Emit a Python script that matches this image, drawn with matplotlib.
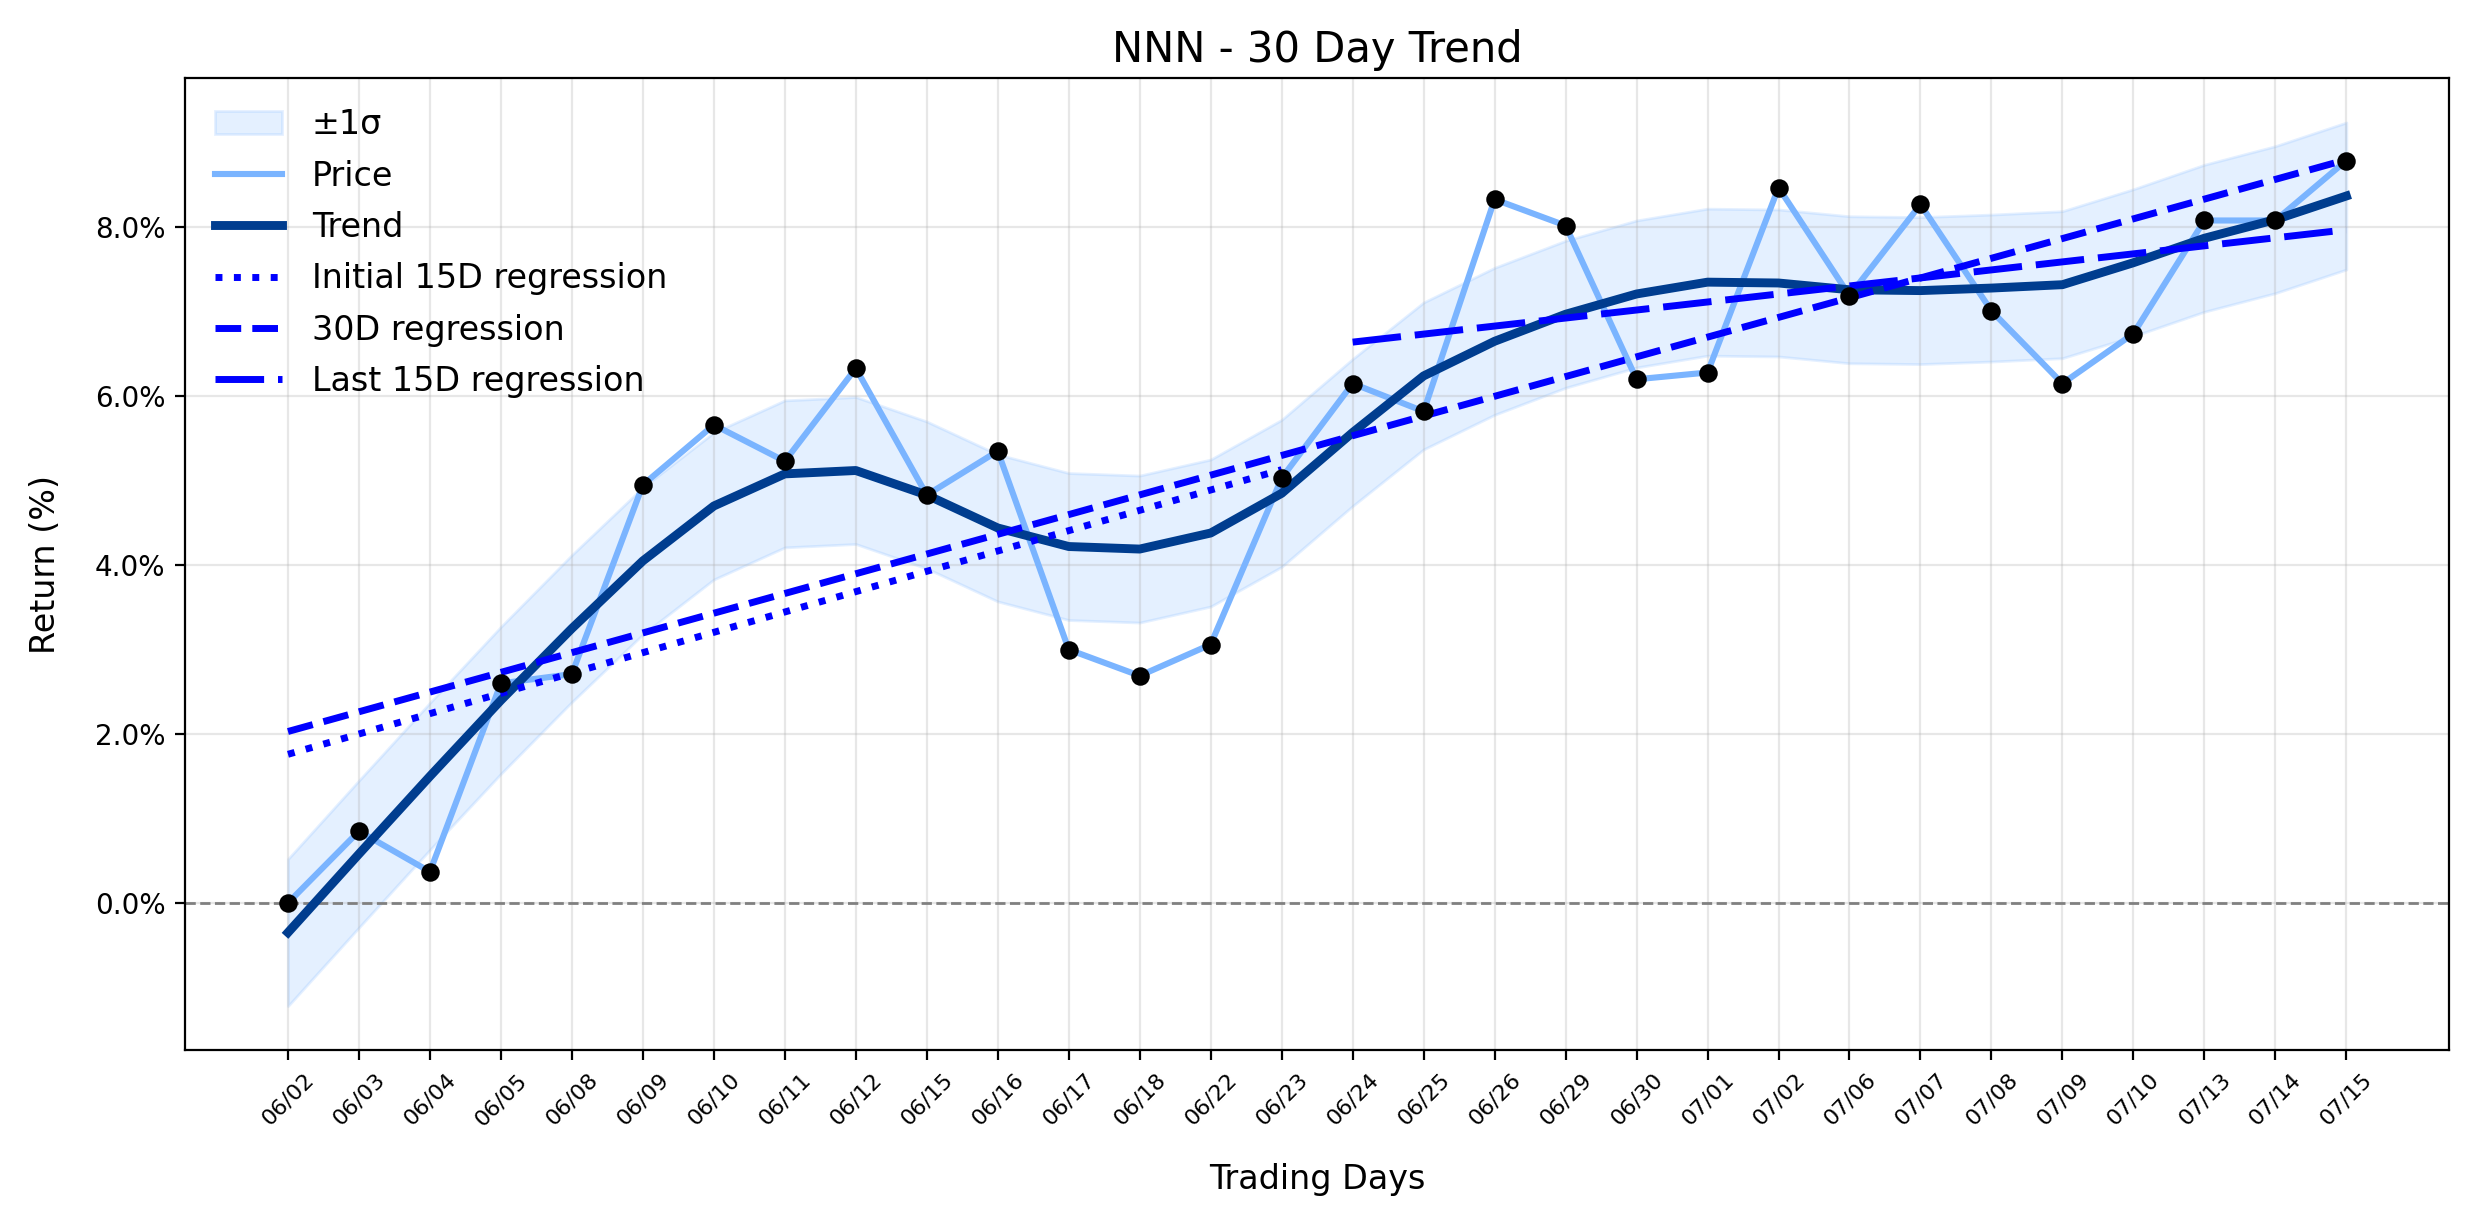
import matplotlib.pyplot as plt
import matplotlib.ticker as mticker
import numpy as np

# Trading days and values (% return)
days = ['06/02', '06/03', '06/04', '06/05', '06/08', '06/09', '06/10', '06/11', '06/12', '06/15',
        '06/16', '06/17', '06/18', '06/22', '06/23', '06/24', '06/25', '06/26', '06/29', '06/30',
        '07/01', '07/02', '07/06', '07/07', '07/08', '07/09', '07/10', '07/13', '07/14', '07/15']
price = [0.00, 0.85, 0.37, 2.60, 2.71, 4.95, 5.66, 5.23, 6.33, 4.83,
         5.35, 3.00, 2.69, 3.06, 5.03, 6.15, 5.82, 8.33, 8.02, 6.20,
         6.28, 8.47, 7.19, 8.27, 7.01, 6.15, 6.74, 8.08, 8.08, 8.79]
trend = [-0.35, 0.58, 1.50, 2.40, 3.25, 4.05, 4.70, 5.08, 5.12, 4.83,
         4.44, 4.22, 4.19, 4.38, 4.85, 5.57, 6.24, 6.65, 6.97, 7.21,
         7.35, 7.34, 7.26, 7.25, 7.28, 7.32, 7.58, 7.87, 8.09, 8.37]
sigma = 0.87

# regression lines: (start index, end index, start value, end value)
reg_initial = (0, 14, 1.76, 5.13)
reg_30d = (0, 29, 2.03, 8.80)
reg_last = (15, 29, 6.64, 7.97)

x = np.arange(len(days))
trend = np.array(trend)

fig, ax = plt.subplots(figsize=(12.37, 6.12), dpi=200)
fig.subplots_adjust(left=0.0748, right=0.99, top=0.936, bottom=0.142)

ax.fill_between(x, trend - sigma, trend + sigma, color='#7ab4ff', alpha=0.2, label='±1σ')
ax.plot(x, price, color='#7ab4ff', linewidth=2.2, label='Price', zorder=3)
ax.plot(x, trend, color='#003d8f', linewidth=3.2, label='Trend', zorder=4)

ax.plot([reg_initial[0], reg_initial[1]], [reg_initial[2], reg_initial[3]],
        color='blue', linestyle=':', linewidth=2.5, label='Initial 15D regression', zorder=4)
ax.plot([reg_30d[0], reg_30d[1]], [reg_30d[2], reg_30d[3]],
        color='blue', linestyle='--', linewidth=2.5, label='30D regression', zorder=4)
ax.plot([reg_last[0], reg_last[1]], [reg_last[2], reg_last[3]],
        color='blue', linestyle=(0, (7, 2)), linewidth=2.5, label='Last 15D regression', zorder=4)

ax.scatter(x, price, color='black', s=32, zorder=5)
ax.axhline(0, color='gray', linestyle='--', linewidth=1)

ax.set_title('NNN - 30 Day Trend', fontsize=15)
ax.set_xlabel('Trading Days', fontsize=12, labelpad=12)
ax.set_ylabel('Return (%)', fontsize=12, labelpad=12)
ax.set_xticks(x)
ax.set_xticklabels(days, rotation=45, fontsize=8)
ax.tick_params(axis='y', labelsize=10)
ax.yaxis.set_major_formatter(mticker.FuncFormatter(lambda v, p: f'{v:.1f}%'))
ax.grid(True, alpha=0.3)
ax.legend(loc='upper left', frameon=False, fontsize=12, labelspacing=0.55, handletextpad=0.9)

plt.savefig('out.png', dpi=200)
